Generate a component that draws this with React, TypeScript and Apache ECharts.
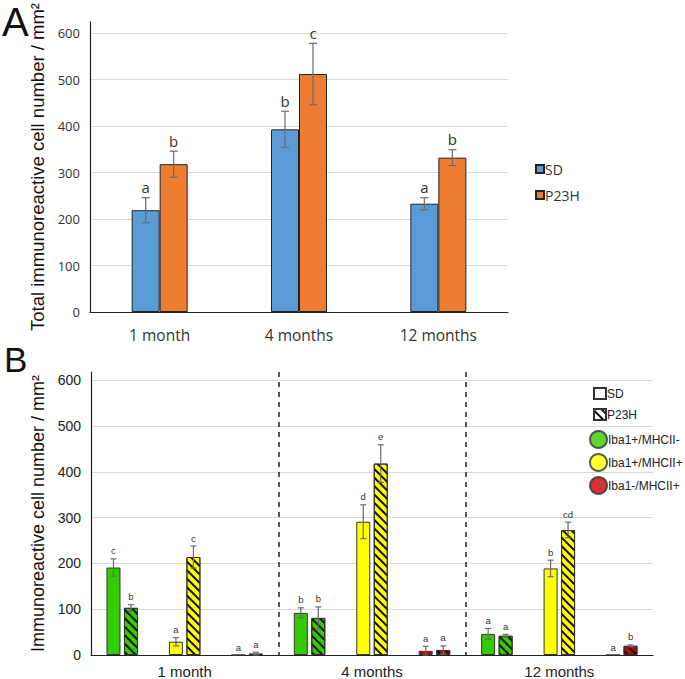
import React, { useEffect, useRef } from 'react';
import * as echarts from 'echarts';

// ---------- Panel A ----------
const monthsA = ['1 month', '4 months', '12 months'];
const sdA = [219, 393, 233];
const p23hA = [318, 512, 332];
const sdErrA = [27, 39, 13];
const p23hErrA = [28, 66, 17];
const sdLettersA = ['a', 'b', 'a'];
const p23hLettersA = ['b', 'c', 'b'];

// ---------- Panel B ----------
const monthsB = ['1 month', '4 months', '12 months'];
const phenotypes = ['Iba1+/MHCII-', 'Iba1+/MHCII+', 'Iba1-/MHCII+'];
const subCategoriesB = [
  '1m Iba1+/MHCII-', '1m Iba1+/MHCII+', '1m Iba1-/MHCII+',
  '4m Iba1+/MHCII-', '4m Iba1+/MHCII+', '4m Iba1-/MHCII+',
  '12m Iba1+/MHCII-', '12m Iba1+/MHCII+', '12m Iba1-/MHCII+',
];
const sdB = [191, 29, 0, 92, 291, 9, 46, 189, 0];
const p23hB = [103, 214, 3, 81, 418, 11, 42, 273, 20];
const sdErrB = [19, 9, 0, 11, 37, 10, 12, 18, 0];
const p23hErrB = [7, 24, 3, 24, 41, 9, 3, 17, 2];
const sdLettersB = ['c', 'a', 'a', 'b', 'd', 'a', 'a', 'b', 'a'];
const p23hLettersB = ['b', 'c', 'a', 'b', 'e', 'a', 'a', 'cd', 'b'];

const blue = '#5b9bd5';
const orange = '#ed7d31';
const phenoColors = ['#33cc00', '#ffff00', '#cc0000'];

const ARIAL = '"Liberation Sans", Arial, sans-serif';
const OPEN = '"Open Sans", "DejaVu Sans", sans-serif';

function errorSeries(
  name: string,
  xAxisIndex: number,
  yAxisIndex: number,
  values: number[],
  errs: number[],
  letters: string[],
  offset: number,
  cap: number,
  fontSize: number,
  fontFamily: string,
  textGap: number,
) {
  return {
    type: 'custom',
    name,
    xAxisIndex,
    yAxisIndex,
    silent: true,
    z: 10,
    data: values.map((v, i) => [i, v, errs[i]]),
    encode: { x: 0, y: 1 },
    renderItem: (params: any, api: any) => {
      const i = api.value(0);
      const v = api.value(1);
      const e = api.value(2);
      const top = api.coord([i, v + e]);
      const bot = api.coord([i, Math.max(v - e, 0)]);
      const x = top[0] + offset;
      const children: any[] = [];
      const ls = { stroke: '#6b6b6b', lineWidth: 1.2 };
      if (e > 0) {
        children.push({ type: 'line', shape: { x1: x, y1: top[1], x2: x, y2: bot[1] }, style: ls });
        children.push({ type: 'line', shape: { x1: x - cap, y1: top[1], x2: x + cap, y2: top[1] }, style: ls });
        children.push({ type: 'line', shape: { x1: x - cap, y1: bot[1], x2: x + cap, y2: bot[1] }, style: ls });
      }
      children.push({
        type: 'text',
        style: {
          text: letters[params.dataIndex],
          x,
          y: top[1] - textGap,
          textAlign: 'center',
          textVerticalAlign: 'bottom',
          fontSize,
          fontFamily,
          fill: '#333',
        },
      });
      return { type: 'group', children };
    },
  };
}

export default function App() {
  const ref = useRef<HTMLDivElement>(null);
  useEffect(() => {
    if (!ref.current) return;
    const chart = echarts.init(ref.current, undefined, { renderer: 'svg' });
    const gridColors = ['#d9d9d9', '#d9d9d9', '#d9d9d9', '#d9d9d9', '#d9d9d9', '#d9d9d9', '#d9d9d9', 'rgba(0,0,0,0)'];
    const hatch = {
      symbol: 'rect',
      color: '#111',
      dashArrayX: [1, 0],
      dashArrayY: [2, 4],
      rotation: Math.PI / 4,
    };
    const option: any = {
      animation: false,
      backgroundColor: '#fff',
      grid: [
        { left: 90, right: 177, top: 17, bottom: 367 },
        { left: 91, right: 32, top: 372, bottom: 24 },
      ],
      xAxis: [
        {
          gridIndex: 0,
          type: 'category',
          data: monthsA,
          axisLine: { lineStyle: { color: '#222', width: 1.2 } },
          axisTick: { show: false },
          axisLabel: { fontSize: 15.5, fontFamily: OPEN, color: '#333', margin: 15 },
        },
        {
          gridIndex: 1,
          type: 'category',
          data: monthsB,
          axisLine: { lineStyle: { color: '#222', width: 1.2 } },
          axisTick: { show: false },
          axisLabel: { fontSize: 15, fontFamily: ARIAL, color: '#222', margin: 9 },
          splitLine: {
            show: true,
            lineStyle: {
              color: ['rgba(0,0,0,0)', '#222', '#222', 'rgba(0,0,0,0)'],
              type: [5, 5],
              width: 1.5,
            },
          },
        },
        {
          gridIndex: 1,
          type: 'category',
          data: subCategoriesB,
          show: false,
        },
      ],
      yAxis: [
        {
          gridIndex: 0,
          type: 'value',
          min: 0,
          max: 624,
          interval: 100,
          name: 'Total immunoreactive cell number / mm²',
          nameLocation: 'middle',
          nameGap: 40,
          nameTextStyle: { fontSize: 18.5, fontFamily: ARIAL, color: '#111' },
          axisLine: { show: true, lineStyle: { color: '#222', width: 1.2 } },
          axisTick: { show: false },
          axisLabel: {
            fontSize: 13,
            fontFamily: OPEN,
            color: '#333',
            margin: 10,
            formatter: (v: number) => (v % 100 === 0 ? String(v) : ''),
          },
          splitLine: { show: true, lineStyle: { color: gridColors, width: 1 } },
        },
        {
          gridIndex: 1,
          type: 'value',
          min: 0,
          max: 618,
          interval: 100,
          name: 'Immunoreactive cell number / mm²',
          nameLocation: 'middle',
          nameGap: 40,
          nameTextStyle: { fontSize: 18, fontFamily: ARIAL, color: '#111' },
          axisLine: { show: true, lineStyle: { color: '#222', width: 1.2 } },
          axisTick: { show: false },
          axisLabel: {
            fontSize: 14,
            fontFamily: ARIAL,
            color: '#222',
            margin: 10,
            formatter: (v: number) => (v % 100 === 0 ? String(v) : ''),
          },
          splitLine: { show: true, lineStyle: { color: gridColors, width: 1 } },
        },
      ],
      legend: [
        {
          data: ['SD', 'P23H'],
          left: 530,
          top: 157,
          orient: 'vertical',
          icon: 'rect',
          itemWidth: 8,
          itemHeight: 8,
          itemGap: 12,
          selectedMode: false,
          textStyle: { fontSize: 14, fontFamily: OPEN, color: '#333', padding: [0, 0, 0, -4] },
        },
        {
          data: ['SD_B', 'P23H_B'],
          left: 588,
          top: 382,
          orient: 'vertical',
          icon: 'rect',
          itemWidth: 12,
          itemHeight: 11,
          itemGap: 8,
          selectedMode: false,
          formatter: (n: string) => n.replace('_B', ''),
          textStyle: { fontSize: 12, fontFamily: ARIAL, color: '#222', padding: [0, 0, 0, -4] },
        },
        {
          data: phenotypes,
          left: 584,
          top: 425,
          orient: 'vertical',
          icon: 'circle',
          itemWidth: 17,
          itemHeight: 17,
          itemGap: 4,
          selectedMode: false,
          textStyle: { fontSize: 12, fontFamily: ARIAL, color: '#222', padding: [0, 0, 0, -4] },
        },
      ],
      graphic: [
        { type: 'text', left: 2, top: 2, style: { text: 'A', fontSize: 40, fontFamily: ARIAL, fill: '#111' } },
        { type: 'text', left: 4, top: 342, style: { text: 'B', fontSize: 35, fontFamily: ARIAL, fill: '#111' } },
      ],
      series: [
        {
          type: 'bar',
          name: 'SD',
          xAxisIndex: 0,
          yAxisIndex: 0,
          data: sdA,
          barWidth: 28,
          barGap: '0%',
          itemStyle: { color: blue, borderColor: '#222', borderWidth: 1 },
        },
        {
          type: 'bar',
          name: 'P23H',
          xAxisIndex: 0,
          yAxisIndex: 0,
          data: p23hA,
          barWidth: 28,
          barGap: '0%',
          itemStyle: { color: orange, borderColor: '#222', borderWidth: 1 },
        },
        errorSeries('errSD_A', 0, 0, sdA, sdErrA, sdLettersA, -14, 4, 15, OPEN, 3),
        errorSeries('errP23H_A', 0, 0, p23hA, p23hErrA, p23hLettersA, 14, 4, 15, OPEN, 3),
        {
          type: 'bar',
          name: 'SD_B',
          xAxisIndex: 2,
          yAxisIndex: 1,
          barWidth: 14,
          barGap: '25%',
          data: sdB.map((v, i) => ({ value: v, itemStyle: { color: phenoColors[i % 3] } })),
          itemStyle: { color: '#fff', borderColor: '#333', borderWidth: 1 },
        },
        {
          type: 'bar',
          name: 'P23H_B',
          xAxisIndex: 2,
          yAxisIndex: 1,
          barWidth: 14,
          barGap: '25%',
          data: p23hB.map((v, i) => ({ value: v, itemStyle: { color: phenoColors[i % 3] } })),
          itemStyle: { color: '#fff', borderColor: '#333', borderWidth: 1, decal: hatch },
        },
        errorSeries('errSD_B', 2, 1, sdB, sdErrB, sdLettersB, -8.75, 3, 9.5, ARIAL, 3),
        errorSeries('errP23H_B', 2, 1, p23hB, p23hErrB, p23hLettersB, 8.75, 3, 9.5, ARIAL, 3),
        ...phenotypes.map((p, i) => ({
          type: 'scatter',
          name: p,
          xAxisIndex: 2,
          yAxisIndex: 1,
          data: [],
          itemStyle: { color: phenoColors[i], borderColor: '#333', borderWidth: 1 },
        })),
      ],
    };
    chart.setOption(option);
    return () => chart.dispose();
  }, []);
  return <div ref={ref} style={{ position: 'fixed', left: 0, top: 0, width: 685, height: 679 }} />;
}
